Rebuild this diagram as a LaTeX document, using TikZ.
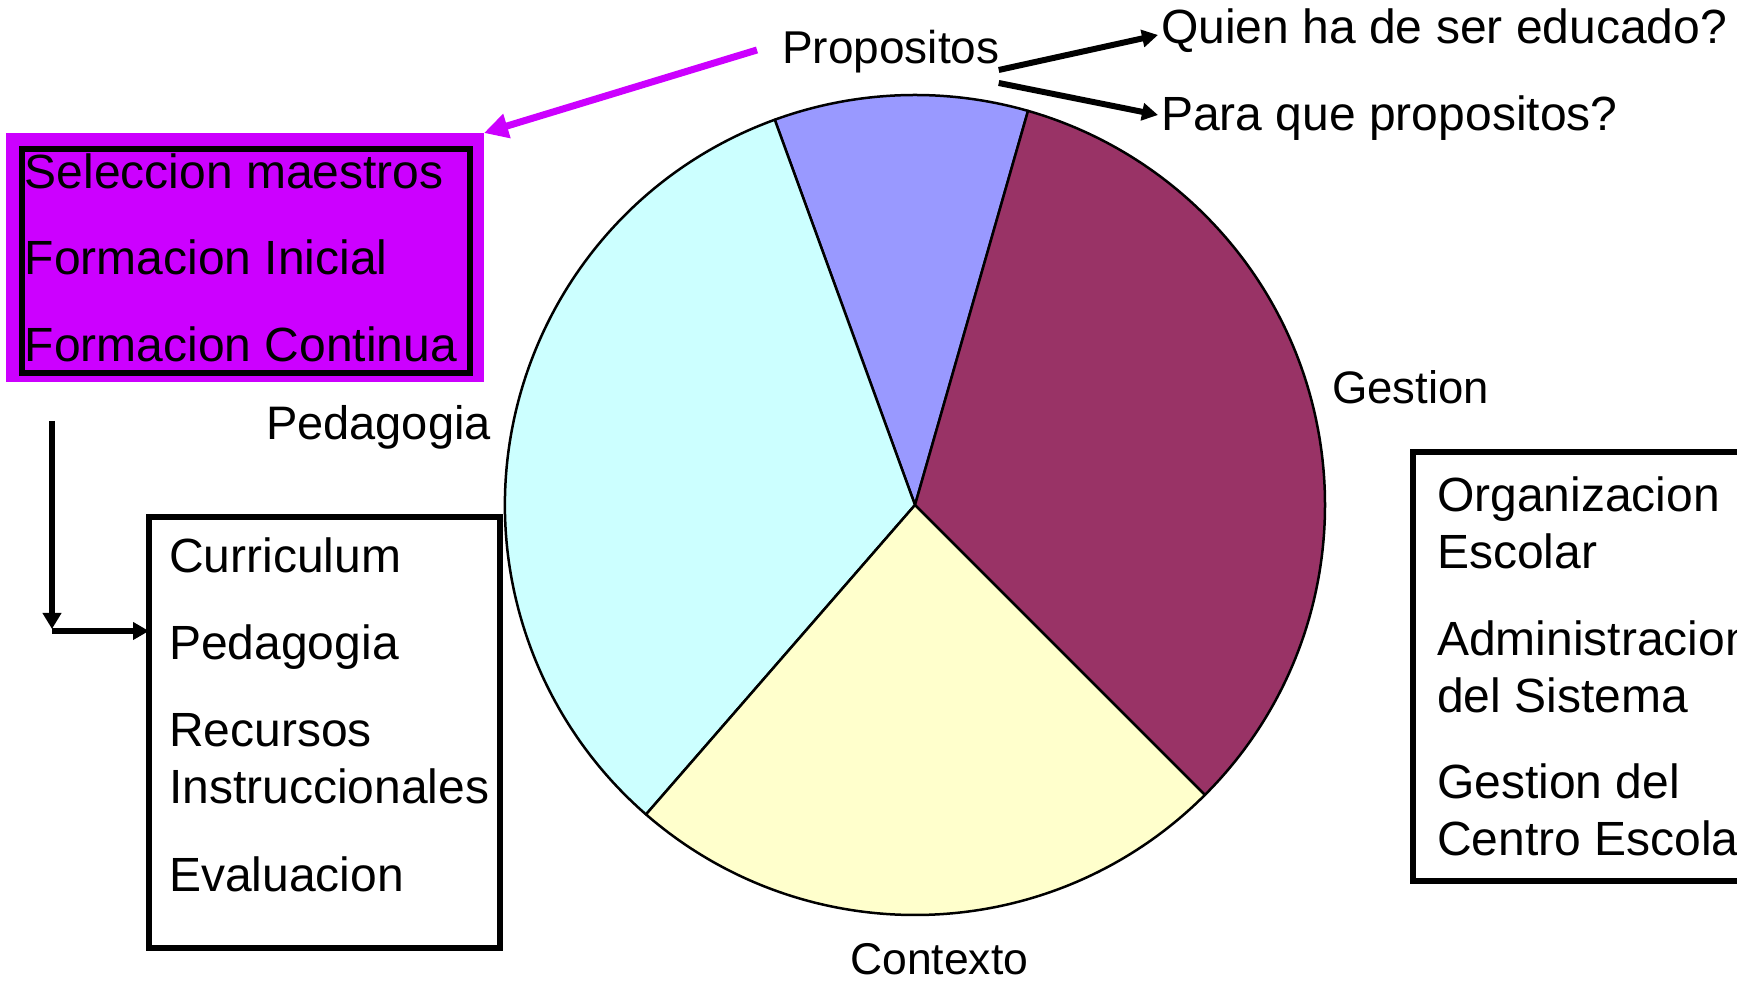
\documentclass[tikz,border=0pt]{standalone}
\usepackage{fontspec}
\setmainfont{Liberation Sans}
\usepackage{tikz}
\usetikzlibrary{arrows.meta}
\definecolor{propcol}{HTML}{9999FF}
\definecolor{gestcol}{HTML}{993366}
\definecolor{contcol}{HTML}{FFFFCC}
\definecolor{pedcol}{HTML}{CCFFFF}
\definecolor{selcol}{HTML}{CC00FF}
\tikzset{
    slice/.style={draw=black, line width=2.5pt, line join=round},
    lbl/.style={inner sep=0pt, font=\fontsize{48}{57}\selectfont},
    item/.style={lbl, anchor=base west, align=left},
    framebox/.style={draw=black, line width=5.5pt, outer sep=0pt, inner sep=0pt},
    blk/.style={line width=6pt, -{Triangle[length=16pt, width=17pt]}},
    pinkarr/.style={draw=selcol, line width=7pt, -{Triangle[length=24pt, width=24pt]}}}

\begin{document}
\begin{tikzpicture}[x=1pt, y=1pt]
            \useasboundingbox (0,0) rectangle (1737,985);

            % pie
            \coordinate (O) at (915,480);
            \filldraw[slice, fill=propcol] (O) -- ++(74:410) arc[start angle=74, end angle=110, radius=410] -- cycle;
            \filldraw[slice, fill=pedcol] (O) -- ++(110:410) arc[start angle=110, end angle=229, radius=410] -- cycle;
            \filldraw[slice, fill=contcol] (O) -- ++(229:410) arc[start angle=229, end angle=315, radius=410] -- cycle;
            \filldraw[slice, fill=gestcol] (O) -- ++(315:410) arc[start angle=315, end angle=434, radius=410] -- cycle;

            \node[lbl, anchor=base west, font=\fontsize{46}{57}\selectfont] (prop) at (782,921) {Propositos};
            \node[lbl, anchor=base west, font=\fontsize{45.5}{57}\selectfont] (gest) at (1332,581) {Gestion};
            \node[lbl, anchor=base east, font=\fontsize{47}{57}\selectfont] (pedlbl) at (491,545) {Pedagogia};
            \node[lbl, anchor=base west, font=\fontsize{44.5}{57}\selectfont] (cont) at (850,10) {Contexto};

            \node[lbl, anchor=base west] (quien) at (1161,941) {Quien ha de ser educado?};
            \node[lbl, anchor=base west] (para) at (1161,854) {Para que propositos?};
            \draw[blk] ([shift={(-1,-6)}]prop.base east) -- ([shift={(-3,9)}]quien.base west);
            \draw[blk] ([shift={(-1,-19)}]prop.base east) -- ([shift={(-3,16)}]para.base west);

            % teachers box
            \node[fill=selcol, minimum width=478.5pt, minimum height=249pt, inner sep=0pt, outer sep=0pt, anchor=north east] (sel) at (484,852) {};
            \draw[line width=6pt] ([shift={(16.5,-16)}]sel.north west) rectangle ([shift={(-14,9)}]sel.south east);
            \node[item] (selm) at (24.5,796) {Seleccion maestros};
            \node[item] (forini) at (24.5,710) {Formacion Inicial};
            \node[item] (forcon) at (24.5,623) {Formacion Continua};
            \draw[pinkarr] ([shift={(-25,14)}]prop.base west) -- (sel.north east);

            % pedagogy box
            \node[framebox, minimum width=351pt, minimum height=431pt, anchor=north west] (pedbox) at (149,468) {};
            \node[item] (cur) at (169,412) {Curriculum};
            \node[item] (ped) at (169,325) {Pedagogia};
            \node[item] (rec) at (169,181) {Recursos\\Instruccionales};
            \node[item] (eva) at (169,93) {Evaluacion};
            \coordinate (drop) at (52,564);
            \coordinate (bend) at (52,356);
            \draw[blk, -{Triangle[length=16pt, width=18pt]}] (drop) -- (bend);
            \draw[blk] ([yshift=-2]bend) -- ([yshift=-2]bend -| pedbox.west);

            % management box
            \node[framebox, minimum width=360pt, minimum height=429pt, anchor=north west] (gestbox) at (1413,533) {};
            \node[item] (org) at (1437,416) {Organizacion\\Escolar};
            \node[item] (adm) at (1437,272) {Administracion\\del Sistema};
            \node[item] (gdc) at (1437,129) {Gestion del\\Centro Escolar};

        \end{tikzpicture}
\end{document}
